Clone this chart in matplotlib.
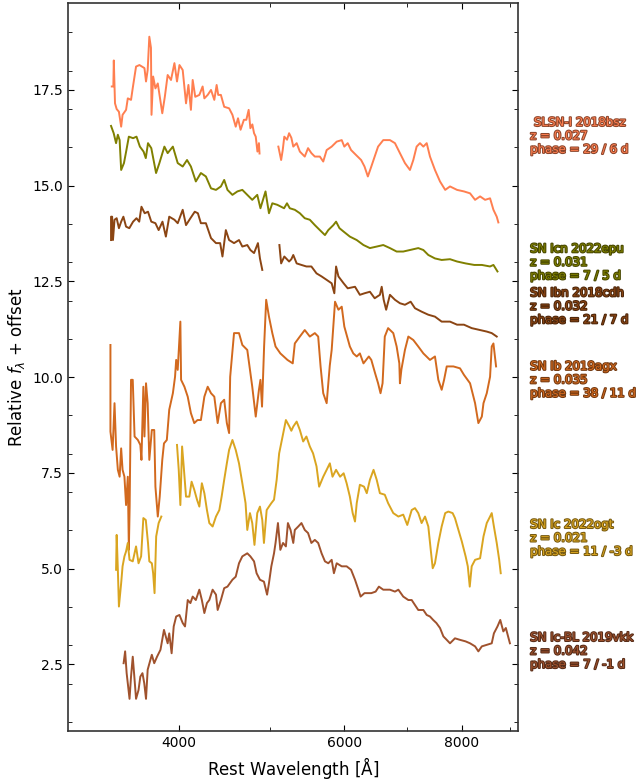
import matplotlib
matplotlib.use('Agg')
import matplotlib.pyplot as plt
import matplotlib.patheffects as pe
import matplotlib.transforms as mtransforms
from matplotlib.colors import to_rgb
from matplotlib.ticker import MultipleLocator, NullFormatter

# spectra: (rest wavelength [A], relative flux + offset)
slsn_a = [(3395, 17.59), (3408, 17.59), (3412, 18.27), (3422, 17.15), (3436, 17.0), (3455, 16.93),
          (3474, 16.54), (3486, 16.85), (3516, 16.98), (3531, 17.28), (3559, 17.24), (3574, 17.55),
          (3603, 18.11), (3633, 18.15), (3678, 18.07), (3692, 17.72), (3707, 18.02), (3722, 18.89),
          (3737, 18.6), (3742, 16.85), (3757, 17.85), (3778, 17.54), (3800, 17.67), (3842, 16.89),
          (3866, 17.32), (3893, 17.89), (3925, 17.76), (3958, 18.2), (3983, 17.72), (4007, 18.15),
          (4039, 18.02), (4072, 17.15), (4096, 17.63), (4121, 16.98), (4139, 17.76), (4165, 17.32),
          (4207, 17.37), (4241, 17.59), (4259, 17.28), (4294, 17.37), (4329, 17.5), (4364, 17.24),
          (4389, 17.63), (4406, 17.37), (4435, 17.37), (4471, 17.06), (4525, 17.02), (4562, 16.85),
          (4599, 16.54), (4625, 16.76), (4654, 16.46), (4692, 16.72), (4720, 16.72), (4747, 16.98),
          (4767, 16.5), (4790, 16.6), (4810, 16.37), (4830, 16.28), (4850, 15.89), (4868, 16.11),
          (4875, 15.84)]
slsn_b = [(5105, 16.02), (5140, 15.67), (5160, 15.93), (5180, 16.28), (5215, 16.2), (5241, 16.37),
          (5270, 16.25), (5295, 16.02), (5339, 16.11), (5381, 15.89), (5446, 15.76), (5490, 15.98),
          (5535, 15.85), (5582, 15.76), (5651, 15.76), (5698, 15.63), (5746, 15.93), (5817, 16.02),
          (5889, 16.15), (5962, 16.19), (6000, 16.02), (6050, 16.11), (6100, 15.93), (6175, 15.8),
          (6252, 15.67), (6304, 15.5), (6356, 15.24), (6410, 15.5), (6463, 15.76), (6517, 16.02),
          (6600, 16.19), (6709, 16.19), (6792, 16.11), (6875, 15.85), (6960, 15.59), (7046, 15.41),
          (7104, 15.67), (7162, 16.02), (7221, 16.11), (7281, 16.02), (7341, 16.11), (7400, 15.76),
          (7491, 15.41), (7584, 15.11), (7681, 14.89), (7772, 14.98), (7907, 14.89), (8042, 14.85),
          (8163, 14.8), (8264, 14.63), (8366, 14.72), (8469, 14.63), (8573, 14.67), (8644, 14.37),
          (8714, 14.19), (8749, 14.04)]

icn = [(3389, 16.56), (3411, 16.37), (3431, 16.11), (3446, 16.33), (3461, 16.19), (3474, 15.41),
       (3498, 15.59), (3519, 15.93), (3540, 16.28), (3577, 16.24), (3607, 16.28), (3637, 16.02),
       (3670, 15.89), (3690, 15.72), (3710, 16.11), (3740, 15.98), (3784, 15.33), (3815, 15.59),
       (3862, 16.02), (3893, 15.85), (3943, 16.02), (3990, 15.59), (4039, 15.5), (4082, 15.67),
       (4121, 15.5), (4171, 15.11), (4223, 15.33), (4275, 15.24), (4329, 14.93), (4382, 14.89),
       (4435, 14.98), (4471, 15.15), (4507, 14.89), (4562, 14.76), (4618, 14.85), (4674, 14.89),
       (4731, 14.76), (4789, 14.63), (4848, 14.76), (4886, 14.41), (4947, 14.85), (4989, 14.28),
       (5030, 14.54), (5092, 14.5), (5177, 14.41), (5214, 14.54), (5250, 14.41), (5315, 14.37),
       (5381, 14.28), (5446, 14.15), (5514, 14.11), (5582, 13.97), (5651, 13.84), (5722, 13.71),
       (5769, 13.84), (5841, 13.97), (5880, 14.06), (5929, 13.89), (5990, 13.8), (6082, 13.67),
       (6185, 13.58), (6288, 13.45), (6388, 13.37), (6495, 13.41), (6600, 13.45), (6709, 13.37),
       (6820, 13.28), (6931, 13.28), (7046, 13.32), (7191, 13.37), (7281, 13.32), (7370, 13.19),
       (7491, 13.1), (7615, 13.06), (7772, 13.08), (7907, 13.02), (8075, 12.97), (8247, 12.93),
       (8402, 12.93), (8573, 12.89), (8644, 12.93), (8730, 12.76)]

ibn_a = [(3389, 13.58), (3389, 14.19), (3398, 14.19), (3405, 13.58), (3418, 14.11), (3436, 14.15),
         (3455, 13.89), (3474, 14.06), (3493, 14.19), (3516, 13.93), (3544, 13.89), (3577, 14.06),
         (3607, 14.15), (3631, 14.06), (3651, 14.45), (3680, 14.28), (3710, 14.32), (3740, 14.06),
         (3778, 14.02), (3808, 13.84), (3844, 14.06), (3876, 13.67), (3908, 14.19), (3958, 14.11),
         (3990, 14.02), (4039, 14.37), (4072, 13.97), (4116, 14.15), (4160, 14.32), (4192, 14.28),
         (4223, 14.02), (4275, 14.02), (4329, 13.63), (4382, 13.5), (4427, 13.5), (4452, 13.15),
         (4489, 13.84), (4525, 13.58), (4580, 13.5), (4636, 13.58), (4674, 13.41), (4731, 13.45),
         (4767, 13.32), (4810, 13.24), (4856, 13.5), (4880, 13.1), (4908, 12.8)]
ibn_b = [(5118, 13.45), (5140, 12.97), (5180, 13.15), (5241, 13.02), (5270, 13.08), (5295, 13.19),
         (5339, 12.97), (5402, 12.93), (5468, 12.89), (5535, 12.89), (5605, 12.71), (5675, 12.63),
         (5746, 12.54), (5817, 12.45), (5855, 12.19), (5880, 12.89), (5914, 12.63), (5990, 12.45),
         (6050, 12.32), (6159, 12.36), (6233, 12.15), (6304, 12.19), (6388, 12.23), (6463, 12.06),
         (6546, 12.15), (6575, 12.36), (6607, 12.02), (6647, 11.76), (6709, 12.15), (6792, 12.02),
         (6875, 11.93), (6960, 11.89), (7058, 11.97), (7133, 11.8), (7250, 11.71), (7370, 11.63),
         (7491, 11.58), (7615, 11.45), (7772, 11.45), (7907, 11.37), (8042, 11.37), (8196, 11.28),
         (8366, 11.23), (8504, 11.19), (8608, 11.15), (8714, 11.06)]

ib = [(3384, 10.84), (3384, 8.58), (3402, 8.1), (3418, 9.32), (3431, 8.19), (3446, 7.58),
      (3461, 7.4), (3474, 8.14), (3486, 7.58), (3502, 7.4), (3516, 6.66), (3531, 7.4),
      (3540, 5.49), (3547, 6.62), (3559, 9.93), (3574, 9.93), (3590, 8.45), (3619, 8.36),
      (3641, 8.23), (3651, 7.84), (3668, 9.75), (3678, 8.45), (3692, 9.84), (3707, 9.32),
      (3722, 7.84), (3745, 8.62), (3767, 8.62), (3778, 7.14), (3800, 6.36), (3818, 6.88),
      (3842, 7.84), (3858, 8.27), (3885, 8.36), (3908, 9.15), (3943, 9.58), (3964, 10.01),
      (3975, 10.45), (3990, 10.19), (4016, 11.45), (4023, 9.93), (4056, 9.75), (4089, 9.49),
      (4121, 9.06), (4155, 8.8), (4188, 8.88), (4223, 8.88), (4259, 9.49), (4294, 9.75),
      (4329, 9.58), (4364, 9.49), (4400, 8.8), (4435, 9.32), (4471, 9.41), (4500, 8.8),
      (4525, 8.54), (4537, 10.01), (4580, 11.15), (4636, 11.15), (4674, 10.84), (4731, 10.71),
      (4789, 9.75), (4830, 8.97), (4868, 9.67), (4886, 9.93), (4905, 9.23), (4930, 10.8),
      (4955, 12.02), (4989, 11.58), (5030, 11.15), (5070, 10.8), (5130, 10.62), (5220, 10.45),
      (5288, 10.36), (5315, 10.88), (5381, 11.06), (5446, 11.23), (5514, 11.06), (5582, 11.15),
      (5628, 11.06), (5661, 10.28), (5698, 9.58), (5746, 9.32), (5769, 9.84), (5790, 10.3),
      (5817, 10.71), (5865, 11.97), (5914, 11.76), (5962, 11.84), (6000, 11.32), (6082, 10.8),
      (6133, 10.62), (6185, 10.54), (6233, 10.62), (6288, 10.36), (6371, 10.54), (6410, 10.45),
      (6470, 10.1), (6517, 9.84), (6556, 9.58), (6589, 9.84), (6625, 11.06), (6679, 11.28),
      (6764, 11.15), (6820, 10.8), (6865, 10.36), (6875, 9.84), (6900, 10.2), (6960, 10.71),
      (7018, 11.06), (7104, 10.97), (7191, 10.8), (7281, 10.62), (7400, 10.45), (7491, 10.54),
      (7553, 9.93), (7615, 9.67), (7660, 9.93), (7710, 10.28), (7837, 10.28), (7965, 10.23),
      (8042, 10.06), (8163, 9.84), (8264, 9.32), (8331, 8.8), (8402, 8.97), (8436, 9.32),
      (8504, 9.58), (8573, 10.01), (8608, 10.8), (8644, 10.88), (8700, 10.28)]

ic_a = [(3431, 4.97), (3436, 5.88), (3446, 4.97), (3455, 4.01), (3474, 4.62), (3486, 5.06),
        (3502, 5.32), (3516, 5.45), (3531, 5.67), (3546, 5.23), (3574, 5.19), (3603, 5.58),
        (3625, 5.14), (3648, 5.32), (3668, 6.32), (3690, 6.27), (3710, 5.67), (3722, 5.19),
        (3745, 5.14), (3757, 4.88), (3770, 4.36), (3785, 5.84), (3808, 6.19), (3833, 6.36)]
ic_b = [(3983, 8.23), (4000, 7.58), (4016, 6.66), (4033, 8.19), (4049, 7.67), (4072, 6.88),
        (4105, 6.88), (4128, 7.27), (4155, 7.06), (4183, 6.8), (4207, 6.62), (4233, 7.23),
        (4259, 6.97), (4286, 6.53), (4311, 6.19), (4346, 6.1), (4382, 6.36), (4418, 6.53),
        (4443, 6.88), (4471, 7.32), (4500, 7.75), (4525, 8.1), (4562, 8.36), (4599, 8.1),
        (4636, 7.75), (4674, 7.23), (4711, 6.71), (4731, 6.01), (4762, 6.45), (4789, 6.19),
        (4815, 5.62), (4848, 6.45), (4880, 6.62), (4908, 6.27), (4928, 5.67), (4961, 6.53),
        (4989, 6.62), (5018, 6.71), (5051, 6.8), (5084, 7.32), (5115, 8.01), (5158, 8.45),
        (5200, 8.88), (5245, 8.71), (5270, 8.6), (5295, 8.71), (5339, 8.84), (5381, 8.62),
        (5425, 8.32), (5468, 8.45), (5514, 8.19), (5558, 8.01), (5605, 7.67), (5641, 7.14),
        (5698, 7.4), (5746, 7.58), (5791, 7.75), (5829, 7.4), (5880, 7.58), (5938, 7.4),
        (5990, 7.49), (6034, 7.23), (6082, 6.88), (6124, 6.45), (6159, 6.23), (6185, 6.71),
        (6233, 7.19), (6297, 7.14), (6339, 6.97), (6388, 7.32), (6445, 7.58), (6495, 7.32),
        (6546, 6.97), (6625, 6.93), (6679, 6.71), (6764, 6.45), (6849, 6.36), (6931, 6.41),
        (7000, 6.14), (7076, 6.53), (7133, 6.58), (7191, 6.45), (7250, 6.19), (7311, 6.36),
        (7370, 6.1), (7414, 5.49), (7450, 5.01), (7491, 5.14), (7553, 5.67), (7615, 6.1),
        (7681, 6.45), (7740, 6.49), (7822, 6.45), (7867, 6.32), (7934, 6.01), (8000, 5.71),
        (8075, 5.32), (8118, 5.06), (8157, 4.53), (8196, 5.06), (8264, 5.23), (8366, 5.27),
        (8436, 5.84), (8504, 6.19), (8573, 6.36), (8608, 6.45), (8654, 6.1), (8714, 5.67),
        (8767, 5.23), (8800, 4.88)]

icbl = [(3495, 2.53), (3508, 2.84), (3521, 2.27), (3546, 1.6), (3559, 2.18), (3574, 2.7),
        (3590, 2.1), (3603, 1.6), (3625, 1.83), (3641, 2.18), (3660, 2.27), (3676, 2.01),
        (3692, 1.6), (3707, 2.36), (3732, 2.62), (3745, 2.75), (3767, 2.53), (3793, 2.7),
        (3825, 2.88), (3858, 3.4), (3893, 3.05), (3908, 3.31), (3931, 2.79), (3951, 3.49),
        (3975, 3.75), (4007, 3.79), (4039, 3.58), (4062, 3.49), (4089, 4.18), (4116, 4.1),
        (4139, 4.27), (4171, 4.18), (4207, 4.45), (4233, 4.18), (4259, 3.84), (4286, 4.1),
        (4311, 4.18), (4346, 4.45), (4382, 4.32), (4400, 3.92), (4435, 4.18), (4471, 4.49),
        (4507, 4.53), (4562, 4.71), (4599, 4.79), (4636, 5.14), (4674, 5.32), (4731, 5.4),
        (4767, 5.32), (4810, 5.19), (4840, 4.88), (4880, 4.71), (4928, 4.66), (4947, 4.49),
        (4966, 4.32), (4989, 4.62), (5018, 5.06), (5051, 5.4), (5070, 5.67), (5100, 6.19),
        (5130, 5.49), (5164, 5.67), (5200, 5.58), (5226, 6.19), (5260, 6.01), (5295, 5.67),
        (5315, 6.01), (5360, 6.1), (5402, 6.19), (5446, 6.01), (5490, 5.93), (5535, 5.67),
        (5582, 5.75), (5628, 5.67), (5675, 5.4), (5722, 5.19), (5769, 5.14), (5817, 5.23),
        (5849, 4.88), (5889, 5.14), (5962, 5.06), (6034, 5.06), (6100, 4.97), (6159, 4.71),
        (6210, 4.45), (6244, 4.27), (6304, 4.36), (6410, 4.36), (6478, 4.4), (6530, 4.53),
        (6600, 4.45), (6709, 4.45), (6792, 4.4), (6849, 4.45), (6931, 4.27), (7018, 4.18),
        (7076, 4.18), (7133, 4.05), (7191, 3.92), (7281, 3.92), (7341, 3.79), (7400, 3.75),
        (7458, 3.66), (7517, 3.58), (7584, 3.45), (7647, 3.23), (7710, 3.14), (7772, 3.05),
        (7867, 3.18), (7965, 3.14), (8075, 3.1), (8163, 3.05), (8264, 2.97), (8331, 2.84),
        (8402, 2.97), (8504, 3.01), (8608, 3.05), (8654, 3.31), (8730, 3.49), (8790, 3.66),
        (8856, 3.36), (8911, 3.45), (9000, 3.05)]

names = [' SLSN-I 2018bsz', 'SN Icn 2022epu', 'SN Ibn 2018cdh', 'SN Ib 2019agx',
         'SN Ic 2022ogt', 'SN Ic-BL 2019vkk']
redshifts = ['0.027', '0.031', '0.032', '0.035', '0.021', '0.042']
phases = ['29 / 6', '7 / 5', '21 / 7', '38 / 11', '11 / -3', '7 / -1']
label_y = [16.3, 13.0, 11.85, 9.93, 5.8, 2.85]
colours = ['coral', 'olive', 'saddlebrown', 'chocolate', 'goldenrod', 'sienna']
spectra = [[slsn_a, slsn_b], [icn], [ibn_a, ibn_b], [ib], [ic_a, ic_b], [icbl]]

fig = plt.figure(figsize=(6.41, 7.82), dpi=100)
ax = fig.add_axes([68 / 641, 1 - 731 / 782, 450 / 641, 728 / 782])

for segs, c in zip(spectra, colours):
    for seg in segs:
        w, f = zip(*seg)
        ax.plot(w, f, color=c, lw=1.4)

trans = mtransforms.blended_transform_factory(ax.transAxes, ax.transData)
for name, z, ph, y, c in zip(names, redshifts, phases, label_y, colours):
    txt = '%s\nz = %s\nphase = %s d' % (name, z, ph)
    dark = tuple(0.55 * v for v in to_rgb(c))
    ax.text(1.027, y, txt, transform=trans, color=c, fontsize=8.5,
            va='center', ha='left', linespacing=1.05,
            path_effects=[pe.withStroke(linewidth=1.5, foreground=dark)])

ax.set_xscale('log')
ax.set_xlim(3050, 9180)
ax.set_ylim(0.76, 19.77)
ax.set_xticks([4000, 6000, 8000])
ax.set_xticklabels(['4000', '6000', '8000'])
ax.xaxis.set_minor_formatter(NullFormatter())
ax.yaxis.set_major_locator(MultipleLocator(2.5))
ax.yaxis.set_minor_locator(MultipleLocator(1))
ax.tick_params(which='both', direction='in', top=True, right=True, labelsize=10)
ax.tick_params(which='major', length=4)
ax.tick_params(which='minor', length=3)
for s in ax.spines.values():
    s.set_color('#333333')
    s.set_linewidth(1.2)

ax.set_xlabel(r'Rest Wavelength [$\mathrm{\AA}$]', fontsize=12)
ax.set_ylabel(r'Relative $f_\lambda$ + offset', fontsize=12)

fig.savefig('out.png', dpi=100)
